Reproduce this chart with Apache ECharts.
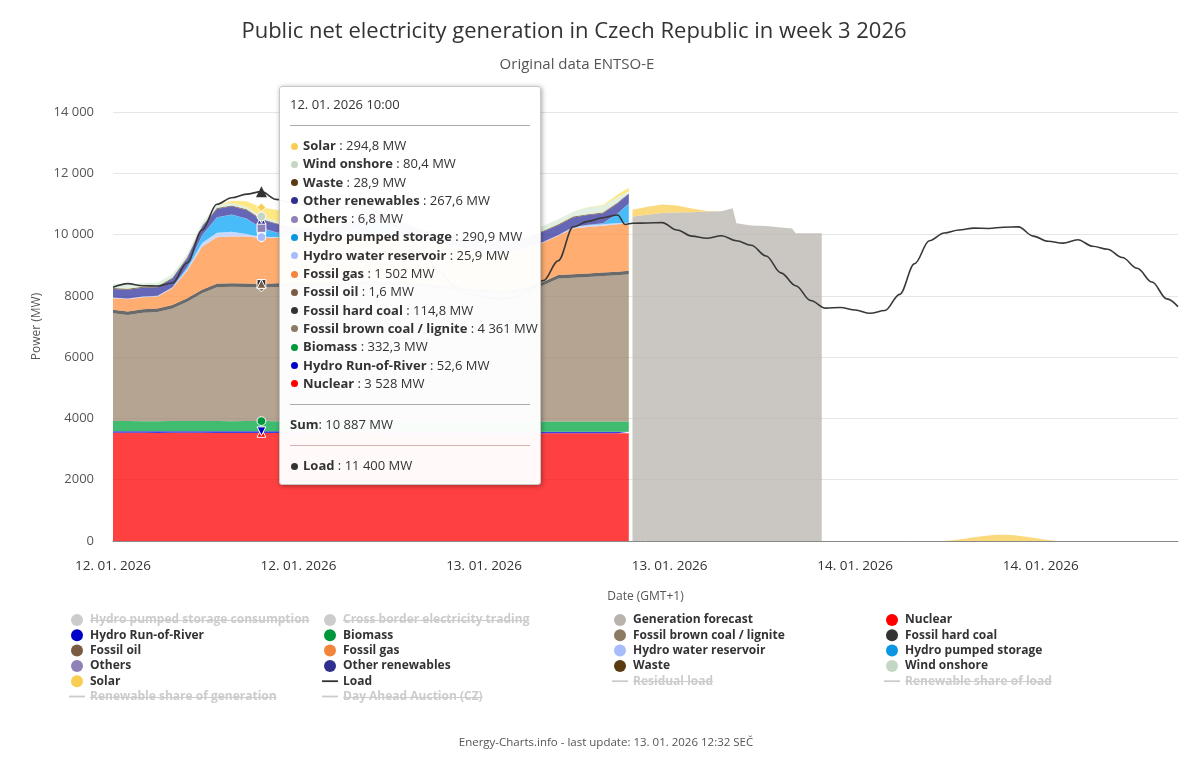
<!DOCTYPE html>
<html>
<head>
<meta charset="utf-8">
<script src="https://cdn.jsdelivr.net/npm/echarts@6/dist/echarts.min.js"></script>
<style>html,body{margin:0;padding:0;background:#fff}#main{width:1200px;height:763px}</style>
</head>
<body>
<div id="main"></div>
<script>
// ---- time axis (hours since 12.01.2026 00:00) ----
const HOURS = [0,1,2,3,4,5,6,7,8,9,10,11,12,13,14,15,16,17,18,19,20,21,22,23,24,25,26,27,28,29,30,31,32,33,34,34.75];

// ---- actual generation (MW) ----
const NUCLEAR   = [3530,3530,3529,3528,3530,3531,3529,3528,3527,3528,3528,3527,3526,3528,3529,3530,3530,3529,3528,3527,3526,3525,3524,3523,3522,3521,3520,3519,3518,3517,3516,3516,3515,3515,3516,3516];
const ROR       = [53,53,52,52,52,52,53,53,53,53,52.6,52,52,52,52,52,52,53,53,53,53,52,52,52,52,52,52,52,52,52,52,53,53,53,53,53];
const BIOMASS   = [330,330,331,331,331,332,332,332,332,332,332.3,332,332,331,331,331,331,331,331,330,330,330,330,330,329,329,329,329,330,330,331,331,332,332,332,332];
const LIGNITE   = [3523,3463,3534,3563,3673,3890,4172,4371,4382,4372,4361,4382,4393,4402,4411,4421,4431,4441,4442,4433,4415,4377,4328,4279,4230,4181,4162,4184,4285,4451,4666,4690,4714,4744,4773,4802];
const HARD_COAL = [112,112,113,113,113,114,114,115,115,115,114.8,115,115,115,115,115,115,115,115,115,114,114,114,113,113,113,113,113,113,114,114,115,115,115,115,115];
const OIL       = [1.6,1.6,1.6,1.6,1.6,1.6,1.6,1.6,1.6,1.6,1.6,1.6,1.6,1.6,1.6,1.6,1.6,1.6,1.6,1.6,1.6,1.6,1.6,1.6,1.6,1.6,1.6,1.6,1.6,1.6,1.6,1.6,1.6,1.6,1.6,1.6];
const GAS       = [370,400,395,385,550,900,1400,1510,1525,1535,1501.6,1490,1480,1470,1480,1500,1520,1530,1520,1500,1450,1400,1350,1300,1270,1250,1240,1250,1265,1275,1280,1495,1520,1530,1550,1540];
const RESERVOIR = [20,20,20,20,25,60,120,150,160,80,25.9,20,20,20,20,20,40,60,60,50,30,20,20,20,20,20,20,20,20,20,20,40,50,50,40,30];
const PUMPED    = [0,0,0,0,0,60,250,500,550,500,290.9,150,50,0,0,0,100,350,400,200,50,0,0,0,0,0,0,0,0,0,0,0,10,20,300,620];
const OTHERS    = [7,7,7,7,7,7,7,7,7,7,6.8,7,7,7,7,7,7,7,7,7,7,7,7,7,7,7,7,7,7,7,7,7,7,7,7,7];
const OTHER_REN = [280,285,285,280,280,280,275,270,270,270,267.6,265,265,265,268,270,275,280,285,290,295,300,305,310,315,320,320,325,330,330,320,310,320,320,330,320];
const WASTE     = [29,29,29,29,29,29,29,29,29,29,28.9,29,29,29,29,29,29,29,29,29,29,29,29,29,29,29,29,29,29,29,29,29,29,29,29,29];
const WIND      = [130,125,120,120,115,110,100,95,90,85,80.4,80,80,85,90,95,100,105,110,115,120,125,130,135,140,145,150,155,160,164,164,154,224,214,180,40];
const SOLAR     = [0,0,0,0,0,0,0,2,60,180,294.8,360,380,350,260,120,10,0,0,0,0,0,0,0,0,0,0,0,0,0,0,0,10,30,80,120];

// ---- forecasts ----
const FC_HOURS  = [35,36,37,38,39,40,41,41.75,42,43,44,45,45.75,46,47,47.75];
const GEN_FC    = [10590,10650,10700,10720,10730,10750,10760,10860,10370,10300,10280,10230,10200,10040,10040,10040];
const SOLAR_FC  = [220,260,280,230,120,20,0,0,0,0,0,0,0,0,0,0];
const SOLAR2_HOURS = [56,57,58,59,60,61,62,63,63.75];
const SOLAR2    = [0,45,120,180,200,175,110,35,0];

// ---- load ----
const LOAD_HOURS = [0,1,2,3,4,5,6,7,8,9,10,11,12,13,14,15,16,17,18,19,20,21,22,23,24,25,26,27,28,29,30,31,32,33,34,34.5,35,36,37,38,39,40,41,42,43,44,45,46,47,48,49,50,51,52,53,54,55,56,57,58,59,60,61,62,63,64,65,66,67,68,69,70,71,71.75];
const LOAD = [8280,8400,8330,8320,8420,9080,10150,10990,11200,11320,11400,11150,11050,10950,10900,10850,10900,10950,10700,10300,9800,9300,8800,8300,8050,7950,7900,7950,8150,8500,9150,10250,10430,10550,10640,10330,10370,10380,10390,10150,9950,9880,9960,9800,9650,9300,8750,8330,7850,7600,7620,7540,7430,7520,8050,9050,9800,10050,10150,10210,10200,10240,10250,9950,9780,9720,9830,9620,9520,9250,8900,8450,7900,7650];

const Y_TICKS = [0,2000,4000,6000,8000,10000,12000,14000];
const TIP_INDEX = 10;

const FONT = '"Open Sans","Noto Sans",sans-serif';
const TRI_DOWN = 'path://M0,0L10,0L5,9Z';

// stack definitions bottom -> top
const STACK = [
  {name:'Nuclear', color:'#ff0000', data:NUCLEAR, symbol:'triangle'},
  {name:'Hydro Run-of-River', color:'#0000c8', data:ROR, symbol:TRI_DOWN},
  {name:'Biomass', color:'#00963c', data:BIOMASS, symbol:'circle'},
  {name:'Fossil brown coal / lignite', color:'#8d7a63', data:LIGNITE, symbol:'diamond'},
  {name:'Fossil hard coal', color:'#333333', data:HARD_COAL, symbol:'rect'},
  {name:'Fossil oil', color:'#7a5c45', data:OIL, symbol:'triangle'},
  {name:'Fossil gas', color:'#f3843c', data:GAS, symbol:TRI_DOWN},
  {name:'Hydro water reservoir', color:'#a8bcfc', data:RESERVOIR, symbol:'circle'},
  {name:'Hydro pumped storage', color:'#0a96e0', data:PUMPED, symbol:'diamond'},
  {name:'Others', color:'#9080b8', data:OTHERS, symbol:'rect'},
  {name:'Other renewables', color:'#2f2f8f', data:OTHER_REN, symbol:'triangle'},
  {name:'Waste', color:'#5a3a10', data:WASTE, symbol:TRI_DOWN},
  {name:'Wind onshore', color:'#c4d6c4', data:WIND, symbol:'circle'},
  {name:'Solar', color:'#f9cc52', data:SOLAR, symbol:'diamond'}
];
const COLOR = {}; STACK.forEach(s => COLOR[s.name] = s.color);
const FC_COLOR = '#b8b4ad';
const LOAD_COLOR = '#333333';

function fmt(v){
  if (v >= 1000) return String(Math.round(v)).replace(/\B(?=(\d{3})+(?!\d))/g, ' ');
  return v.toFixed(1).replace('.', ',');
}
function pad(n){ return (n<10?'0':'')+n; }
// data rows are [value, hour]; encode maps hour to x so stacking works on the value
function rows(hours, values){ return hours.map((h,i) => [values[i], h]); }
const ENC = {x:1, y:0};

const series = [];
['Hydro pumped storage consumption','Cross border electricity trading'].forEach(n =>
  series.push({name:n, type:'line', data:[], encode:ENC, symbol:'none', areaStyle:{}, itemStyle:{color:'#bbb'}, tooltip:{show:false}}));
series.push({name:'Generation forecast', type:'line', stack:'fc', data:rows(FC_HOURS, GEN_FC), encode:ENC,
  symbol:'none', showSymbol:false, lineStyle:{width:0}, itemStyle:{color:FC_COLOR},
  areaStyle:{color:FC_COLOR, opacity:0.75}, tooltip:{show:false}, z:2});
STACK.forEach(s => series.push({
  name:s.name, type:'line', stack:'gen', data:rows(HOURS, s.data), encode:ENC,
  showSymbol:false, symbol:s.symbol, symbolSize:8, lineStyle:{width:0},
  itemStyle:{color:s.color, borderColor:'#fff', borderWidth:1},
  areaStyle:{color:s.color, opacity:0.75}, z:2
}));
series.push({name:'Solar', type:'line', stack:'fc', data:rows(FC_HOURS, SOLAR_FC), encode:ENC,
  symbol:'none', showSymbol:false, lineStyle:{width:0}, itemStyle:{color:COLOR['Solar']},
  areaStyle:{color:COLOR['Solar'], opacity:0.75}, tooltip:{show:false}, z:2});
series.push({name:'Solar', type:'line', data:rows(SOLAR2_HOURS, SOLAR2), encode:ENC, smooth:0.4,
  symbol:'none', showSymbol:false, lineStyle:{width:0}, itemStyle:{color:COLOR['Solar']},
  areaStyle:{color:COLOR['Solar'], opacity:0.75}, tooltip:{show:false}, z:2});
series.push({name:'Load', type:'line', data:rows(LOAD_HOURS, LOAD), encode:ENC, smooth:0.35, smoothMonotone:'x',
  showSymbol:false, symbol:'triangle', symbolSize:10, lineStyle:{width:1.6, color:LOAD_COLOR},
  itemStyle:{color:LOAD_COLOR}, z:5});
['Residual load','Renewable share of load','Renewable share of generation','Day Ahead Auction (CZ)'].forEach(n =>
  series.push({name:n, type:'line', data:[], encode:ENC, symbol:'none', itemStyle:{color:'#bbb'}, lineStyle:{color:'#bbb'}, tooltip:{show:false}}));

const INACTIVE = ['Hydro pumped storage consumption','Cross border electricity trading','Residual load','Renewable share of load','Renewable share of generation','Day Ahead Auction (CZ)'];
const selected = {}; INACTIVE.forEach(n => selected[n] = false);
const LINE_ICON = 'path://M0,0M0,5.1h16v1.8h-16zM16,12';
const LEG_COLS = [
  {left:69,  items:['Hydro pumped storage consumption','Hydro Run-of-River','Fossil oil','Others','Solar','Renewable share of generation']},
  {left:322, items:['Cross border electricity trading','Biomass','Fossil gas','Other renewables','Load','Day Ahead Auction (CZ)']},
  {left:612, items:['Generation forecast','Fossil brown coal / lignite','Hydro water reservoir','Waste','Residual load']},
  {left:884, items:['Nuclear','Fossil hard coal','Hydro pumped storage','Wind onshore','Renewable share of load']}
];
const LINE_ITEMS = ['Load','Residual load','Renewable share of load','Renewable share of generation','Day Ahead Auction (CZ)'];
const LEG_TOP = 613, LEG_ROW = 15.3;
const legendFont = {fontFamily:FONT, fontSize:12, fontWeight:'bold', color:'#333', lineHeight:14};
const legends = LEG_COLS.map(c => ({
  orient:'vertical', left:c.left, top:LEG_TOP, itemWidth:16, itemHeight:12, itemGap:LEG_ROW-14,
  padding:0, inactiveColor:'#ccc', inactiveBorderWidth:0, selected:selected, textStyle:legendFont,
  itemStyle:{borderWidth:0},
  data:c.items.map(n => ({name:n, icon: LINE_ITEMS.indexOf(n)>=0 ? LINE_ICON : 'circle'}))
}));

// strike-through for inactive legend entries
const ctx = document.createElement('canvas').getContext('2d');
ctx.font = 'bold 12px ' + FONT;
const strikes = [];
LEG_COLS.forEach(c => c.items.forEach((n,i) => {
  if (INACTIVE.indexOf(n) < 0) return;
  const x1 = c.left + 21, w = ctx.measureText(n).width, y = Math.round(LEG_TOP + i*LEG_ROW + 7) + 0.5;
  strikes.push({type:'line', silent:true, shape:{x1:x1, y1:y, x2:x1+w, y2:y}, style:{stroke:'#ccc', lineWidth:1}, z:100});
}));

function nearestIndex(arr, v){ let b=0; arr.forEach((h,i)=>{ if (Math.abs(h-v) < Math.abs(arr[b]-v)) b=i; }); return b; }

function tipFormatter(params){
  const hv = params && params.length && params[0].axisValue != null ? params[0].axisValue : HOURS[TIP_INDEX];
  const idx = nearestIndex(HOURS, Number(hv));
  const h = HOURS[idx];
  const day = 12 + Math.floor(h/24), hh = Math.floor(h%24), mm = Math.round((h%1)*60);
  const hr = c => '<div style="border-top:1px solid '+c+';margin:12px 0 10px 0;height:0"></div>';
  const dot = c => '<span style="display:inline-block;width:7px;height:7px;border-radius:50%;background:'+c+';margin:0 5px 1px 1px;vertical-align:middle"></span>';
  let s = '<div style="line-height:18px">'+pad(day)+'. 01. 2026 '+pad(hh)+':'+pad(mm)+'</div>' + hr('#aaa');
  let sum = 0;
  STACK.slice().reverse().forEach(st => {
    const v = st.data[idx]; sum += v;
    s += '<div style="line-height:18.3px;white-space:nowrap">'+dot(st.color)+'<b>'+st.name+'</b> : '+fmt(v)+' MW</div>';
  });
  const lv = LOAD[nearestIndex(LOAD_HOURS, h)];
  s += hr('#aaa') + '<div style="line-height:18px;margin-top:1px"><b>Sum</b>: '+fmt(sum)+' MW</div>' + hr('#d7b0b0');
  s += '<div style="line-height:18px;white-space:nowrap;margin-top:1px">'+dot(LOAD_COLOR)+'<b>Load</b> : '+fmt(lv)+' MW</div>';
  return s;
}

const chart = echarts.init(document.getElementById('main'), null, {renderer:'canvas'});
chart.setOption({
  animation:false,
  backgroundColor:'#fff',
  textStyle:{fontFamily:FONT},
  title:[
    {text:'Public net electricity generation in Czech Republic in week 3 2026', left:569, top:16, textAlign:'center',
     textStyle:{fontFamily:FONT, fontSize:22, fontWeight:'normal', color:'#333'}},
    {text:'Original data ENTSO-E', left:572, top:52, textAlign:'center', textStyle:{fontFamily:FONT, fontSize:15, fontWeight:'normal', color:'#555'}},
    {text:'Energy-Charts.info - last update: 13. 01. 2026 12:32 SEČ', left:601, top:732, textAlign:'center',
     textStyle:{fontFamily:FONT, fontSize:11.5, fontWeight:'normal', color:'#555'}}
  ],
  grid:{left:113, right:22, top:112, bottom:222, outerBoundsMode:'none', containLabel:false},
  xAxis:{
    type:'value', min:0, max:71.75, interval:12.5,
    name:'Date (GMT+1)', nameLocation:'middle', nameGap:50,
    nameTextStyle:{fontFamily:FONT, fontSize:12, color:'#555'},
    axisLine:{lineStyle:{color:'#888'}}, axisTick:{show:false}, splitLine:{show:false},
    axisLabel:{showMaxLabel:false, margin:18, color:'#333', fontSize:13.5, fontFamily:FONT,
      formatter:v => pad(12 + Math.floor(v/24 + 1e-9)) + '. 01. 2026'}
  },
  yAxis:{
    type:'value', min:Y_TICKS[0], max:Y_TICKS[Y_TICKS.length-1], interval:Y_TICKS[1]-Y_TICKS[0],
    name:'Power (MW)', nameLocation:'middle', nameGap:70, nameRotate:90,
    nameTextStyle:{fontFamily:FONT, fontSize:12, color:'#555'},
    axisLine:{show:false}, axisTick:{show:false},
    splitLine:{lineStyle:{color:'#e6e6e6'}},
    axisLabel:{margin:19, color:'#555', fontSize:13, fontFamily:FONT,
      formatter:v => v >= 10000 ? (v/1000) + ' 000' : String(v)}
  },
  legend:legends,
  tooltip:{
    trigger:'axis', axisPointer:{type:'none'}, alwaysShowContent:true, showDelay:0, transitionDuration:0,
    position:[279,86], padding:[8,10,10,10], backgroundColor:'rgba(255,255,255,0.97)',
    borderColor:'#c8c8c8', borderWidth:1,
    textStyle:{fontFamily:FONT, fontSize:13, color:'#333'},
    extraCssText:'width:240px;box-shadow:1px 1px 5px rgba(0,0,0,0.35);border-radius:3px;',
    formatter:tipFormatter
  },
  graphic:strikes,
  series:series
});
const tipSeries = series.findIndex(s => s.name === 'Nuclear');
function showTip(){ chart.dispatchAction({type:'showTip', seriesIndex:tipSeries, dataIndex:TIP_INDEX}); }
showTip();
setTimeout(showTip, 50);
</script>
</body>
</html>
